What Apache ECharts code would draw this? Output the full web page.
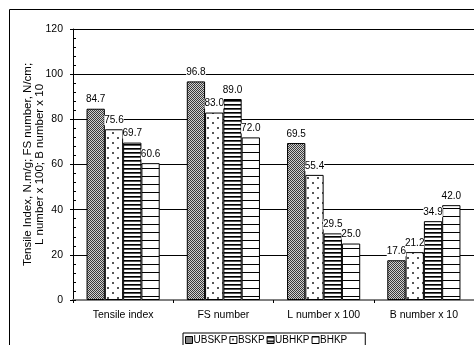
<!DOCTYPE html>
<html><head><meta charset="utf-8">
<script src="https://cdn.jsdelivr.net/npm/echarts@6/dist/echarts.min.js"></script>
<style>html,body{margin:0;padding:0;background:#fff;overflow:hidden}#c{width:474px;height:345px}</style>
</head><body><div id="c"></div>
<script>
const categories = ['Tensile index', 'FS number', 'L number x 100', 'B number x 10'];
const seriesNames = ['UBSKP', 'BSKP', 'UBHKP', 'BHKP'];
const ubskp = [84.7, 96.8, 69.5, 17.6];
const bskp  = [75.6, 83.0, 55.4, 21.2];
const ubhkp = [69.7, 89.0, 29.5, 34.9];
const bhkp  = [60.6, 72.0, 25.0, 42.0];
const yMin = 0, yMax = 120, yInterval = 20;
const yTitle = 'Tensile Index, N.m/g; FS number, N/cm;\nL number x 100; B number x 10';

function makePattern(w, h, draw) {
  const c = document.createElement('canvas');
  c.width = w; c.height = h;
  const g = c.getContext('2d');
  g.fillStyle = '#fff'; g.fillRect(0, 0, w, h);
  draw(g);
  return { image: c, repeat: 'repeat' };
}
const patChecker = makePattern(2, 2, g => {
  g.fillStyle = '#d0d0d0'; g.fillRect(0, 0, 2, 2);
  g.fillStyle = '#3a3a3a'; g.fillRect(0, 0, 1, 1); g.fillRect(1, 1, 1, 1);
});
const patDots = makePattern(10, 10, g => {
  g.fillStyle = '#555'; g.fillRect(2, 2, 2, 2); g.fillRect(7, 7, 2, 2);
});
const patDense = makePattern(1, 4, g => {
  g.fillStyle = '#000'; g.fillRect(0, 0, 1, 1);
  g.fillStyle = '#555'; g.fillRect(0, 1, 1, 1);
});
const patSparse = makePattern(1, 8, g => {
  g.fillStyle = '#000'; g.fillRect(0, 0, 1, 1);
});
const patterns = [patChecker, patDots, patDense, patSparse];
const values = [ubskp, bskp, ubhkp, bhkp];

const font = "'Liberation Sans', Arial, sans-serif";
const chart = echarts.init(document.getElementById('c'), null, { renderer: 'canvas' });
chart.setOption({
  animation: false,
  backgroundColor: '#fff',
  textStyle: { fontFamily: font, color: '#000' },
  graphic: [{
    type: 'rect', z: -10, silent: true,
    shape: { x: 9.5, y: 9.5, width: 480, height: 400 },
    style: { fill: 'none', stroke: '#000', lineWidth: 1 }
  }],
  grid: { left: 73, right: -4, top: 29, bottom: 45, containLabel: false },
  legend: {
    data: seriesNames,
    left: 183, top: 333,
    orient: 'horizontal',
    itemWidth: 7, itemHeight: 7, itemGap: 2,
    padding: [2, 18, 2, 2],
    borderColor: '#000', borderWidth: 1, borderRadius: 0,
    backgroundColor: '#fff',
    icon: 'rect',
    textStyle: { fontSize: 10, fontFamily: "'Liberation Sans Narrow', 'Arial Narrow', 'Liberation Sans', Arial", color: '#000', padding: [0, 0, 0, -4] },
    itemStyle: { borderColor: '#000', borderWidth: 1 }
  },
  xAxis: [{
    type: 'category', data: categories,
    axisLine: { lineStyle: { color: '#000', width: 1 } },
    axisTick: { show: true, length: 3, lineStyle: { color: '#000' } },
    axisLabel: { fontSize: 10.5, color: '#000', margin: 10 },
    splitLine: { show: false }
  }, {
    type: 'category', data: categories, position: 'top',
    axisLine: { show: true, lineStyle: { color: '#808080', width: 2 } },
    axisTick: { show: false }, axisLabel: { show: false }, splitLine: { show: false }
  }],
  yAxis: [{
    type: 'value', min: yMin, max: yMax, interval: yInterval,
    name: yTitle, nameLocation: 'middle', nameRotate: 90, nameGap: 27,
    nameMoveOverlap: false,
    nameTextStyle: { fontSize: 11.5, lineHeight: 12, color: '#000', align: 'center' },
    axisLine: { show: true, lineStyle: { color: '#000', width: 1 } },
    axisTick: { show: true, length: 3, lineStyle: { color: '#000' } },
    axisLabel: { fontSize: 10.5, color: '#000', margin: 10 },
    splitLine: { show: true, lineStyle: { color: '#000', width: 1 } }
  }, {
    type: 'value', min: yMin, max: yMax, interval: yInterval, position: 'left',
    axisLine: { show: false },
    axisTick: { show: true, inside: true, length: 3, lineStyle: { color: '#000' } },
    minorTick: { show: true, splitNumber: 5, length: 3, lineStyle: { color: '#000' } },
    axisLabel: { show: false },
    splitLine: { show: false }
  }],
  series: seriesNames.map((n, i) => ({
    name: n, type: 'bar', data: values[i],
    xAxisIndex: 0, yAxisIndex: 0,
    barGap: '0%', barCategoryGap: '27%',
    itemStyle: { color: patterns[i], borderColor: '#000', borderWidth: 1 },
    label: {
      show: true, position: 'top', distance: 4,
      fontSize: 10, color: '#000', backgroundColor: '#fff', padding: [0, 0],
      formatter: p => Number(p.value).toFixed(1)
    }
  }))
});
</script></body></html>
